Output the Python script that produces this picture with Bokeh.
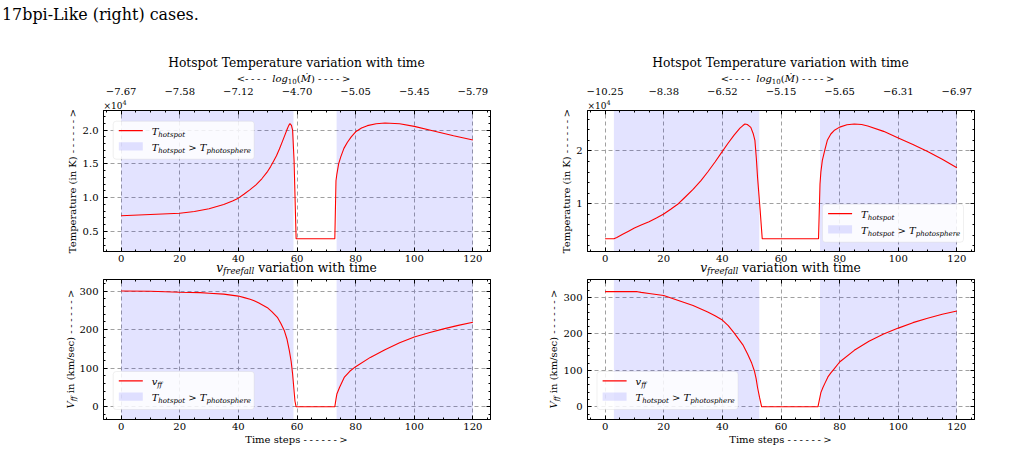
import math
from bokeh.plotting import figure
from bokeh.models import (Range1d, LinearAxis, FixedTicker, BoxAnnotation, Div,
                          CustomJSTickFormatter)
from bokeh.layouts import row, column
from bokeh.embed import file_html
from bokeh.resources import INLINE

# ---------------- data ----------------
time_temp_left = [0, 10, 20, 25, 30, 35, 38, 40, 42, 44,
                  46, 48, 50, 51, 52, 53, 54, 55, 56, 56.7,
                  57.2, 57.6, 58.1, 58.5, 59.0, 59.7, 72.9, 73.3, 73.6, 74.2,
                  74.9, 76.0, 77.2, 78.5, 80, 82, 84, 87, 90, 95,
                  100, 106.6, 113.4, 120]
temp_left = [7330, 7520, 7710, 7950, 8360, 9000, 9500, 9930, 10550, 11200,
             11900, 12800, 13900, 14600, 15400, 16200, 17200, 18300, 19400, 20200,
             20700, 20950, 20700, 20000, 15500, 3920, 3920, 12500, 13500, 15000,
             16000, 17300, 18200, 19000, 19750, 20300, 20660, 20930, 21040, 20950,
             20550, 19860, 19170, 18530]

time_v_left = [0, 10, 20, 27, 30, 35, 40, 42, 44, 45.4,
               47, 49.9, 51.5, 53.4, 54.5, 55.7, 56.6, 57.4, 58, 58.5,
               59.3, 59.7, 72.9, 73.3, 73.6, 74.5, 76.1, 78, 80, 85,
               90, 95, 100, 105, 110, 115, 120]
v_left = [300, 299.5, 297, 296, 294.5, 292, 287, 283, 279, 275,
          269, 257, 246, 231, 216, 197, 175, 145, 118, 85,
          15, 0, 0, 20, 33, 50, 76, 92, 104, 128,
          148, 166, 181, 192, 202, 211, 219]

time_temp_right = [0, 3, 4, 6, 8, 10, 12.5, 15, 17.5, 20,
                   22.5, 25, 27, 30, 32.7, 35, 37.5, 40, 42, 44,
                   46, 47, 47.7, 48.5, 49.2, 49.7, 50.5, 51.1, 51.6, 52.0,
                   52.5, 52.9, 53.6, 72.8, 73.3, 73.6, 74.1, 75, 75.8, 77,
                   78.1, 80, 82.5, 85, 87.5, 89.6, 95, 100, 105, 110,
                   115, 120]
temp_right = [3360, 3360, 3600, 4200, 4800, 5390, 6000, 6600, 7300, 8040,
              9000, 10000, 11080, 12700, 14360, 16000, 17900, 19920, 21500, 23000,
              24300, 24800, 25100, 25000, 24700, 24450, 23300, 22000, 18500, 15000,
              11500, 8670, 3360, 3360, 13700, 16000, 18200, 20300, 22000, 23200,
              23850, 24500, 24950, 25100, 25000, 24700, 23700, 22450, 21200, 19900,
              18400, 16800]

time_v_right = [0, 11, 12.3, 15, 20, 25, 30, 35, 37.5, 40,
                42, 44, 46, 47, 48.6, 50, 50.9, 51.5, 52.0, 52.7,
                53.4, 72.6, 73.6, 74.3, 75, 76, 77, 78, 80, 85,
                90, 95, 100, 105, 110, 115, 120]
v_right = [316, 316, 314, 311, 305.5, 292, 278, 260, 250, 238,
           223, 203, 181, 170, 145, 120, 99, 78, 53, 25,
           0, 0, 39, 53, 65, 82, 93, 103, 123, 155,
           180, 200, 216, 231, 243, 254, 263]

# regions where T_hotspot > T_photosphere
shade_left_start = [0, 73.5]
shade_left_end = [58.8, 120]
shade_right_start = [3, 73.3]
shade_right_end = [52.6, 120]

# ticks
x_ticks = [0, 20, 40, 60, 80, 100, 120]
x_minor = list(range(-5, 130, 5))
mdot_left = ["−7.67", "−7.58", "−7.12", "−4.70", "−5.05", "−5.45", "−5.79"]
mdot_right = ["−10.25", "−8.38", "−6.52", "−5.15", "−5.65", "−6.31", "−6.97"]
t_ticks_left = [5000, 10000, 15000, 20000]
t_minor_left = list(range(3000, 23000, 1000))
t_ticks_right = [10000, 20000]
t_minor_right = list(range(2000, 28000, 2000))
v_ticks = [0, 100, 200, 300]
v_minor = list(range(-20, 360, 20))

# axis limits
x_lim = (-6, 126)
t_lim_left = (2040, 22900)
t_lim_right = (950, 27650)
v_lim_left = (-33, 330)
v_lim_right = (-34.8, 349.4)

# texts
caption = "17bpi-Like (right) cases."
top_title = "Hotspot Temperature variation with time"

# ---------------- styling helpers ----------------
FONT = "DejaVu Serif"
RED = "#ff0000"
SHADE = "#0000ff"
SHADE_ALPHA = 0.11
FW = 387
FH_T, FH_B = 141, 140
# absolute frame geometry (page pixels)
FL_L, FL_R = 103, 587
FB_T, FB_B = 251, 419


def sbox(p, l, r, b, t, **kw):
    p.add_layout(BoxAnnotation(left=l, right=r, bottom=b, top=t,
                               left_units="screen", right_units="screen",
                               bottom_units="screen", top_units="screen", **kw))


def style_axis(ax, ticks, minor, labels=True):
    ax.ticker = FixedTicker(ticks=ticks, minor_ticks=minor)
    ax.axis_line_color = "black"
    ax.axis_line_width = 1
    ax.major_tick_in = 4
    ax.major_tick_out = 0
    ax.minor_tick_in = 2
    ax.minor_tick_out = 0
    ax.major_tick_line_color = "black"
    ax.minor_tick_line_color = "black"
    ax.major_label_text_font = FONT
    ax.major_label_text_font_size = "10px"
    ax.major_label_text_color = "black"
    if not labels:
        ax.formatter = CustomJSTickFormatter(code="return ''")
        ax.major_label_text_font_size = "0px"
        ax.major_label_standoff = 0


def make_panel(y_lim, y_ticks, y_minor, fh, bl, br, bt, bb, top_labels=None,
               y_fmt=None):
    p = figure(frame_width=FW, frame_height=fh, x_range=Range1d(*x_lim),
               y_range=Range1d(*y_lim), min_border_left=bl, min_border_right=br,
               min_border_top=bt, min_border_bottom=bb, output_backend="svg",
               toolbar_location=None, title=None)
    p.background_fill_color = "white"
    p.border_fill_color = "white"
    p.outline_line_color = "black"
    p.outline_line_width = 1

    style_axis(p.xaxis[0], x_ticks, x_minor)
    p.xaxis[0].major_label_standoff = 3
    style_axis(p.yaxis[0], y_ticks, y_minor)
    p.yaxis[0].major_label_standoff = 5
    if y_fmt is not None:
        p.yaxis[0].formatter = y_fmt

    top = LinearAxis()
    p.add_layout(top, "above")
    if top_labels is None:
        style_axis(top, x_ticks, x_minor, labels=False)
    else:
        style_axis(top, x_ticks, x_minor)
        top.major_label_overrides = {t: s for t, s in zip(x_ticks, top_labels)}
        top.major_label_standoff = 16

    right = LinearAxis()
    p.add_layout(right, "right")
    style_axis(right, y_ticks, y_minor, labels=False)

    for g, tk in ((p.xgrid[0], x_ticks), (p.ygrid[0], y_ticks)):
        g.ticker = FixedTicker(ticks=tk)
        g.grid_line_color = "#a0a0a0"
        g.grid_line_dash = "4 3"
        g.grid_line_width = 1
    return p


def legend_marks(p, bl, bb, w=141, h=38):
    sbox(p, bl, bl + w, bb, bb + h, fill_color="white", fill_alpha=0.85,
         line_color="#cccccc", line_width=1, border_radius=3)
    sbox(p, bl + 5.6, bl + 29.6, bb + 28.0, bb + 29.2, fill_color=RED,
         fill_alpha=1, line_alpha=0)
    sbox(p, bl + 5.6, bl + 29.6, bb + 8.7, bb + 17, fill_color=SHADE,
         fill_alpha=SHADE_ALPHA, line_alpha=0)


t_fmt = CustomJSTickFormatter(code="return (tick/1e4).toFixed(1)")
t_fmt_r = CustomJSTickFormatter(code="return (tick/1e4).toFixed(0)")

p1 = make_panel(t_lim_left, t_ticks_left, t_minor_left, FH_T, 103, 30, 110, 24,
                top_labels=mdot_left, y_fmt=t_fmt)
p2 = make_panel(v_lim_left, v_ticks, v_minor, FH_B, 103, 30, 4, 45)
p3 = make_panel(t_lim_right, t_ticks_right, t_minor_right, FH_T, 67, 40, 110, 24,
                top_labels=mdot_right, y_fmt=t_fmt_r)
p4 = make_panel(v_lim_right, v_ticks, v_minor, FH_B, 67, 40, 4, 45)

for p, ts, te, tt, tv in (
        (p1, shade_left_start, shade_left_end, time_temp_left, temp_left),
        (p3, shade_right_start, shade_right_end, time_temp_right, temp_right),
        (p2, shade_left_start, shade_left_end, time_v_left, v_left),
        (p4, shade_right_start, shade_right_end, time_v_right, v_right)):
    yl = p.y_range
    p.quad(left=ts, right=te, bottom=yl.start, top=yl.end, fill_color=SHADE,
           fill_alpha=SHADE_ALPHA, line_alpha=0)
    p.line(tt, tv, line_color=RED, line_width=1.1)

# legend boxes (frame-relative), bottom-left corner
LEG = {"p1": (9.7, 92.3), "p3": (235, 9.3), "p2": (9.7, 10), "p4": (9.5, 10)}
for key, p in (("p1", p1), ("p3", p3), ("p2", p2), ("p4", p4)):
    legend_marks(p, *LEG[key])

# ---------------- text overlay (HTML, page coordinates) ----------------
ASC = 0.846  # baseline offset below the top of a 1em line box (DejaVu)


def sub(t, size, italic=True, shift=None):
    sh = shift if shift is not None else 0.2 * size / 0.7
    st = "italic" if italic else "normal"
    return (f'<span style="font-size:{size}px;font-style:{st};position:relative;'
            f'top:{sh:.1f}px">{t}</span>')


def it(t):
    return f'<i>{t}</i>'


def dashes(n):
    return f'<span style="letter-spacing:2.6px">{"-" * n}</span>'


def htext(x, baseline, inner, size, align="left"):
    top = baseline - ASC * size
    if align == "center":
        pos = f"left:{x - 300:.1f}px;width:600px;text-align:center;"
    else:
        pos = f"left:{x:.1f}px;"
    return (f'<div style="position:absolute;{pos}top:{top:.1f}px;'
            f'font-size:{size}px;line-height:{size}px;white-space:nowrap;">{inner}</div>')


def vtext(bx, cy, inner, size):
    cx = bx - (ASC - 0.5) * size
    return (f'<div style="position:absolute;left:{cx - 150:.1f}px;top:{cy - size / 2:.1f}px;'
            f'width:300px;height:{size}px;font-size:{size}px;line-height:{size}px;'
            f'text-align:center;white-space:nowrap;transform:rotate(-90deg);'
            f'transform-origin:50% 50%;">{inner}</div>')


T_HOT = it("T") + sub("hotspot", 7)
T_SHADE = T_HOT + " &gt; " + it("T") + sub("photosphere", 7)
V_FF = it("v") + sub("ff", 7)
MDOT = ("&lt;" + dashes(4) + " " + it("log") + sub("10", 7, italic=False) + "("
        + it("Ṁ") + ") " + dashes(4) + "&gt;")
VFF_TITLE = it("v") + sub("freefall", 8.6) + " variation with time"
VFF_YLABEL = it("V") + sub("ff", 7) + " in (km/sec) " + dashes(6) + "&gt;"
T_YLABEL = "Temperature (in K) " + dashes(6) + "&gt;"
X_LABEL = "Time steps " + dashes(6) + "&gt;"

parts = [htext(2, 20, caption, 15.9)]
for fl in (FL_L, FL_R):
    cx = fl + FW / 2
    parts.append(htext(cx, 67.7, top_title, 12.3, "center"))
    parts.append(htext(cx - 3, 82.5, MDOT, 10, "center"))
    parts.append(htext(fl + 0.5, 107, "×10<sup style=\"font-size:6.5px\">4</sup>", 9))
    parts.append(htext(cx, 272.3, VFF_TITLE, 12.3, "center"))
    parts.append(htext(cx, 443, X_LABEL, 10, "center"))

parts.append(vtext(76, (110 + FB_T) / 2, T_YLABEL, 10))
parts.append(vtext(570, (110 + FB_T) / 2, T_YLABEL, 10))
parts.append(vtext(74.5, (279 + FB_B) / 2, VFF_YLABEL, 10))
parts.append(vtext(557, (279 + FB_B) / 2, VFF_YLABEL, 10))

for key, fl, fb, first in (("p1", FL_L, FB_T, T_HOT), ("p3", FL_R, FB_T, T_HOT),
                           ("p2", FL_L, FB_B, V_FF), ("p4", FL_R, FB_B, V_FF)):
    bl, bb = LEG[key]
    x = fl + bl + 39
    parts.append(htext(x, fb - (bb + 23.2), first, 10))
    parts.append(htext(x, fb - (bb + 7.4), T_SHADE, 10))

html = (f'<div style="position:absolute;left:0px;top:0px;width:1028px;height:469px;'
        f'font-family:\'{FONT}\';color:#000;pointer-events:none;">' + "".join(parts) + "</div>")

overlay = Div(text=html, width=1028, height=0, margin=0,
              styles={"position": "absolute", "left": "0px", "top": "0px",
                      "z-index": "10", "pointer-events": "none", "overflow": "visible"})

layout = column(overlay, row(column(p1, p2), column(p3, p4)))
open("out.html", "w").write(file_html(layout, INLINE))
